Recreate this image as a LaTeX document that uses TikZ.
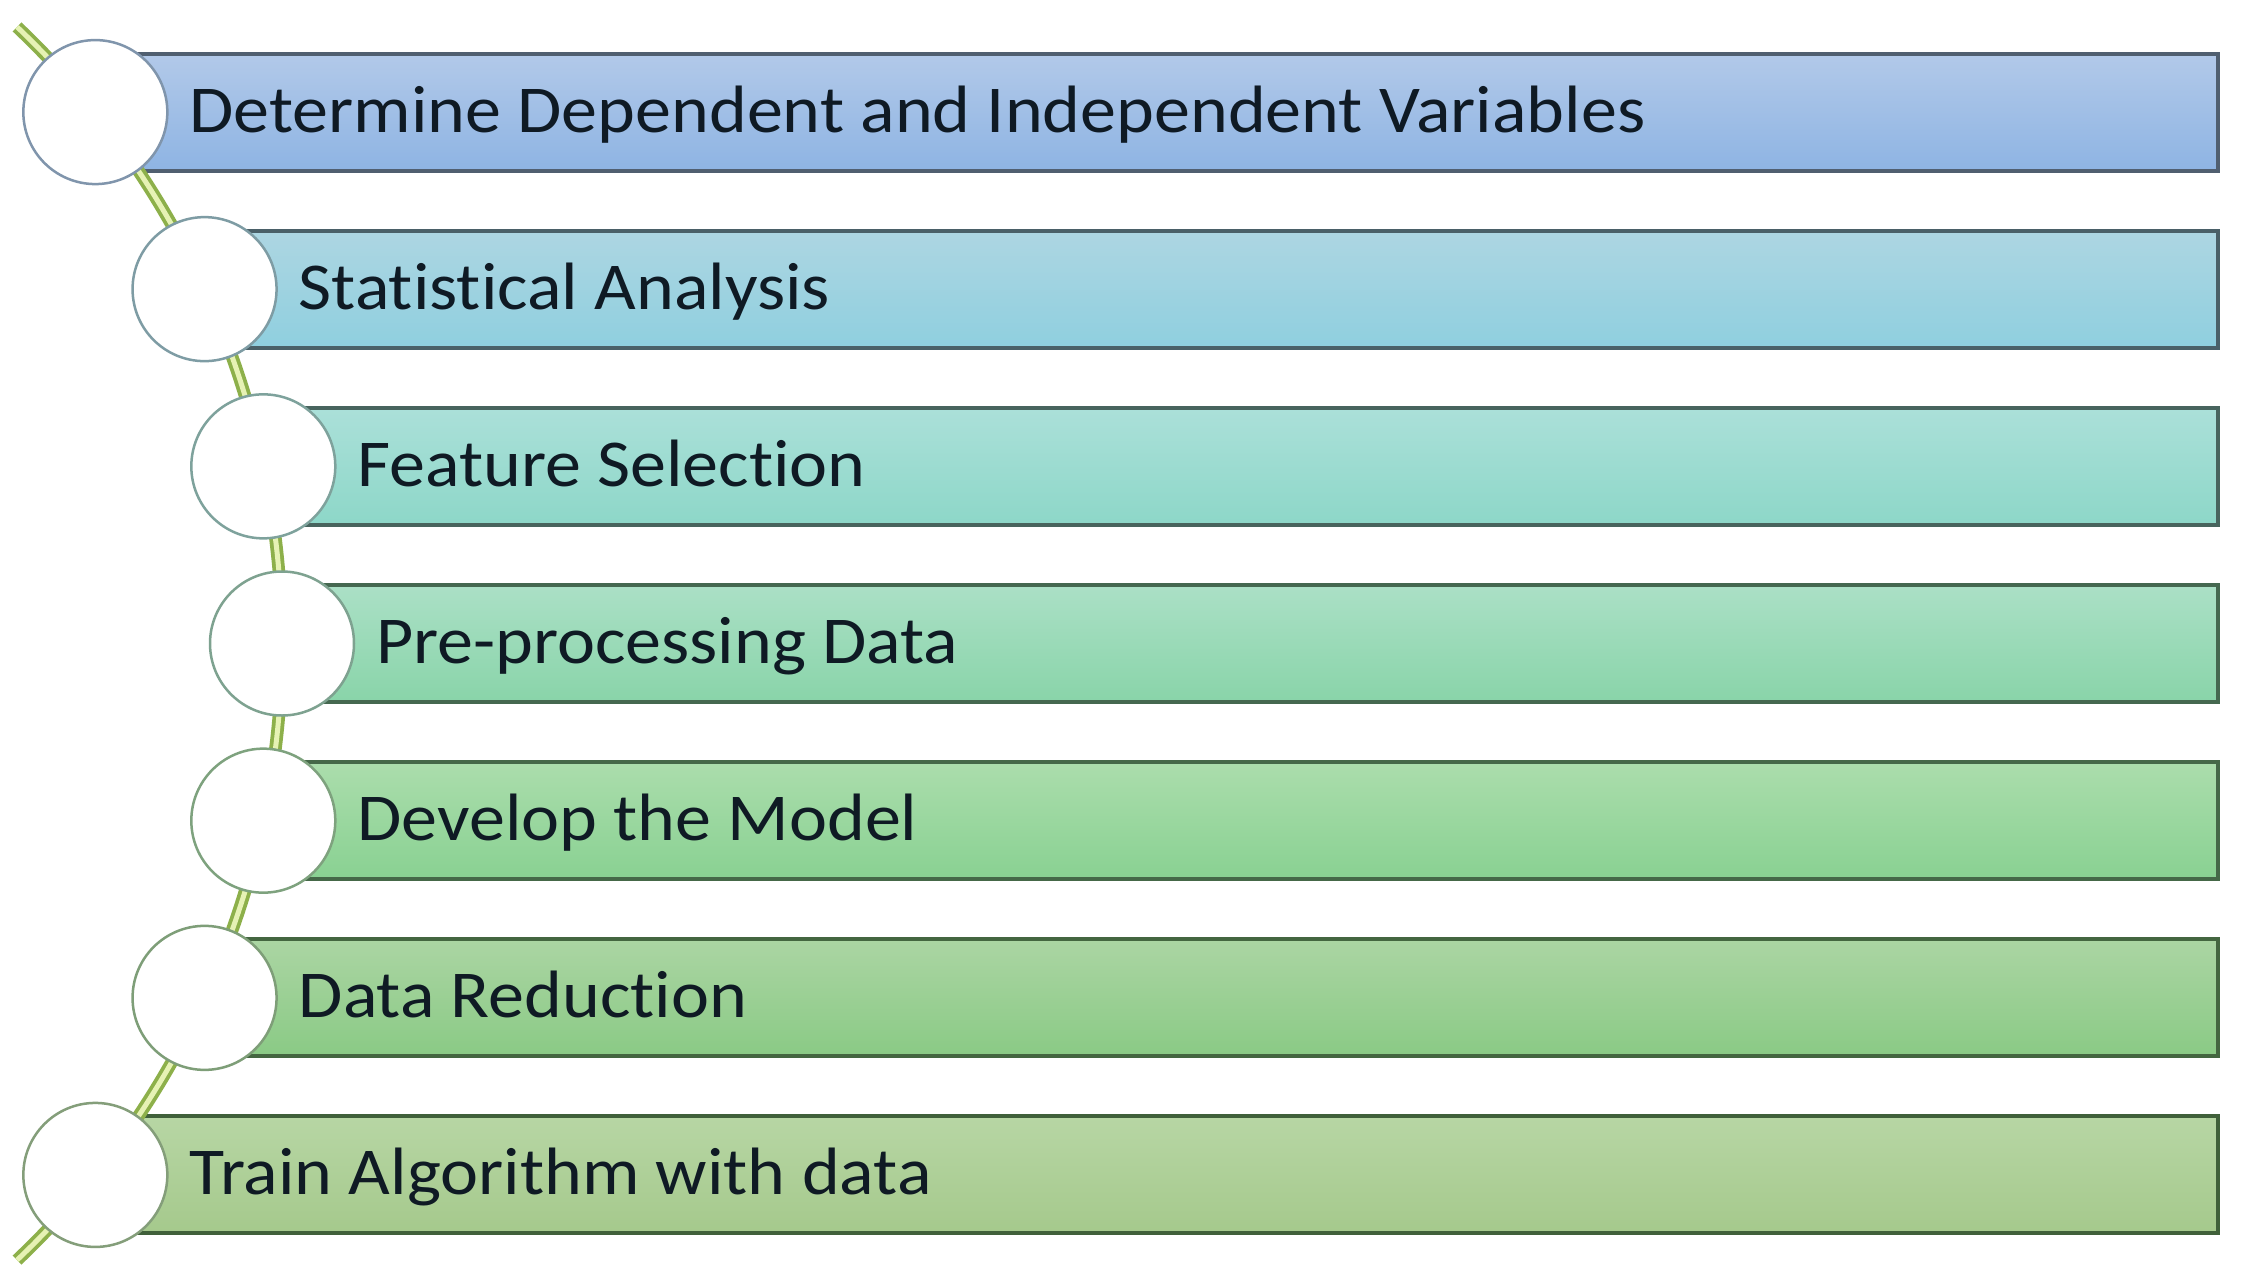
\documentclass[tikz,border=0pt]{standalone}
\usepackage{fontspec}
\setmainfont{Carlito}[FakeStretch=1.075, Ligatures={NoCommon}]
\usetikzlibrary{calc}
\definecolor{arcouter}{HTML}{8DB04A}
\definecolor{arcinner}{HTML}{E6F2B4}
\definecolor{txtcol}{HTML}{0F1A24}
\tikzset{
  barbox/.style={rectangle, draw, line width=4pt, anchor=west, minimum height=117pt, inner sep=0pt},
  circbox/.style={circle, fill=white, draw, line width=2.5pt, minimum size=144pt, inner sep=0pt},
  lbl/.style={anchor=base west, inner sep=0pt, text=txtcol, font=\fontsize{67}{80}\selectfont},
  arcline/.style={draw=arcouter, line width=3.8pt, double=arcinner, double distance=5pt}
}
\begin{document}
\begin{tikzpicture}[x=1pt,y=1pt]
\fill[white] (0,0) rectangle (2241,-1282);
\useasboundingbox (0,0) rectangle (2241,-1282);
\coordinate (C) at (-568,-643.5);
% circle centre coordinates on the arc
\foreach \i/\a in {1/38.70,2/24.64,3/12.03,4/0,5/-12.03,6/-24.64,7/-38.70}
  {\coordinate (c\i) at ($(C)+(\a:850)$);}
% bars
\foreach \i/\tc/\bc/\ec in {
  1/B2C9E9/8EB4E3/505F70,
  2/ADD6E2/8FCFDF/4A6068,
  3/ABE0D9/8DD7C8/48645E,
  4/ABE0C6/89D4A9/456850,
  5/ABDDAC/89D192/456848,
  6/ABD5A3/8ACA85/446640,
  7/B7D6A4/A5C98C/40603A}
{
  \definecolor{tcx}{HTML}{\tc}
  \definecolor{bcx}{HTML}{\bc}
  \definecolor{ecx}{HTML}{\ec}
  \path let \p1=(c\i) in
    node[barbox, draw=ecx, top color=tcx, bottom color=bcx,
         minimum width={2216pt-\x1}] (bar\i) at (c\i) {};
}
% connecting arc
\coordinate (a0) at ($(C)+(46.5:850)$);
\draw[arcline] (a0) arc[start angle=46.5, end angle=-46.5, radius=850];
% circles and labels
\foreach \i/\cc/\txt in {
  1/8095AC/{Determine Dependent and Independent Variables},
  2/7E9CA4/{Statistical Analysis},
  3/7EA29C/{Feature Selection},
  4/7EA290/{Pre-processing Data},
  5/7EA27E/{Develop the Model},
  6/7E9E78/{Data Reduction},
  7/849E7A/{Train Algorithm with data}}
{
  \definecolor{ccx}{HTML}{\cc}
  \node[circbox, draw=ccx] (circ\i) at (c\i) {};
  \node[lbl] (t\i) at ($(c\i)+(94,-20)$) {\txt};
}
\end{tikzpicture}
\end{document}
